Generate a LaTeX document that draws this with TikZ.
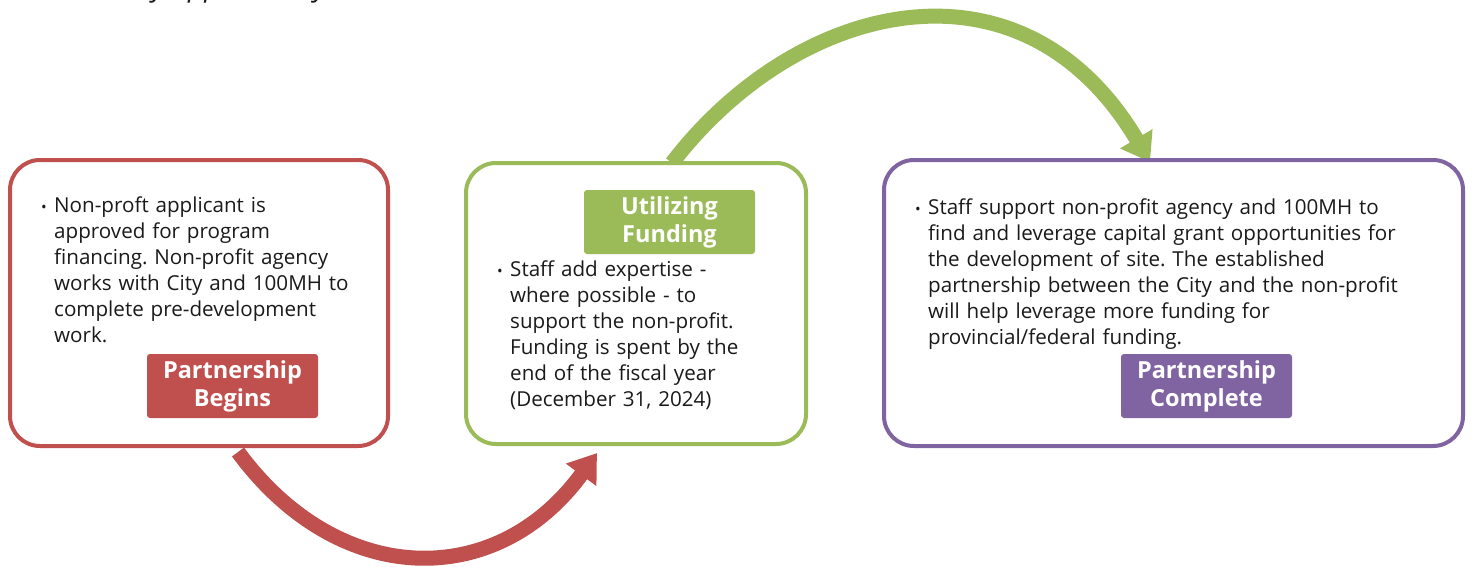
\documentclass[tikz,border=0pt]{standalone}
\usepackage{fontspec}
\setmainfont{Open Sans}
\usetikzlibrary{arrows.meta}
\definecolor{cred}{HTML}{C0504D}
\definecolor{cgreen}{HTML}{9BBB59}
\definecolor{cpurple}{HTML}{8064A2}
\definecolor{ctext}{HTML}{1A1A1A}
\frenchspacing
\begin{document}
\begin{tikzpicture}[x=1pt,y=-1pt,
  panel/.style={draw=#1, line width=4pt, rounded corners=30pt, fill=white, inner sep=0pt},
  tag/.style={fill=#1, rounded corners=3pt, text=white, font=\fontsize{23.5}{28}\selectfont\bfseries, align=center, inner sep=0pt, minimum width=171pt, minimum height=64pt},
  body/.style={anchor=base west, align=left, text width=#1, font=\fontsize{20.6}{26}\selectfont, text=ctext, inner sep=0pt},
  dot/.style={anchor=base, font=\fontsize{15}{15}\selectfont, text=ctext, inner sep=0pt},
  flow/.style={line width=15pt, draw=#1, -{Triangle[length=27pt,width=36pt]}}
]
\useasboundingbox (0,0) rectangle (1473,566);
\clip (0,0) rectangle (1473,566);

% cut-off title at top
\node[anchor=base west, font=\itshape\fontsize{28}{28}\selectfont, text=ctext, inner sep=0pt] (title) at (152,-4) {y approved by};

% connector end points
\coordinate (r0) at (238,452);
\coordinate (r1) at (597,453);
\coordinate (g0) at (672,163);
\coordinate (g1) at (1150,162);

% arrows
\draw[flow=cred] (r0) .. controls (338,588) and (496,591.5) .. (r1);
\draw[flow=cgreen] (g0) .. controls (797,0) and (1022,-54) .. (g1);

% panels
\node[panel=cred, minimum width=378pt, minimum height=286pt] (p1) at (199,303) {};
\node[panel=cgreen, minimum width=340pt, minimum height=281pt] (p2) at (636,303.5) {};
\node[panel=cpurple, minimum width=579pt, minimum height=286pt] (p3) at (1173.5,303) {};

% tags
\node[tag=cred] (l1) at (232.5,386) {Partnership\\Begins};
\node[tag=cgreen] (l2) at (669.5,222) {Utilizing\\Funding};
\node[tag=cpurple] (l3) at (1206.5,386) {Partnership\\Complete};

% texts
\node[dot] (d1) at (44,212) {•};
\node[body=330pt] (t1) at (54,212) {Non-proft applicant is\\approved for program\\financing. Non-profit agency\\works with City and 100MH to\\complete pre-development\\work.};

\node[dot] (d2) at (500,276) {•};
\node[body=290pt] (t2) at (510,276) {Staff add expertise -\\where possible - to\\support the non-profit.\\Funding is spent by the\\end of the fiscal year\\(December 31, 2024)};

\node[dot] (d3) at (918,214) {•};
\node[body=520pt] (t3) at (928,214) {Staff support non-profit agency and 100MH to\\find and leverage capital grant opportunities for\\the development of site. The established\\partnership between the City and the non-profit\\will help leverage more funding for\\provincial/federal funding.};
\end{tikzpicture}
\end{document}
